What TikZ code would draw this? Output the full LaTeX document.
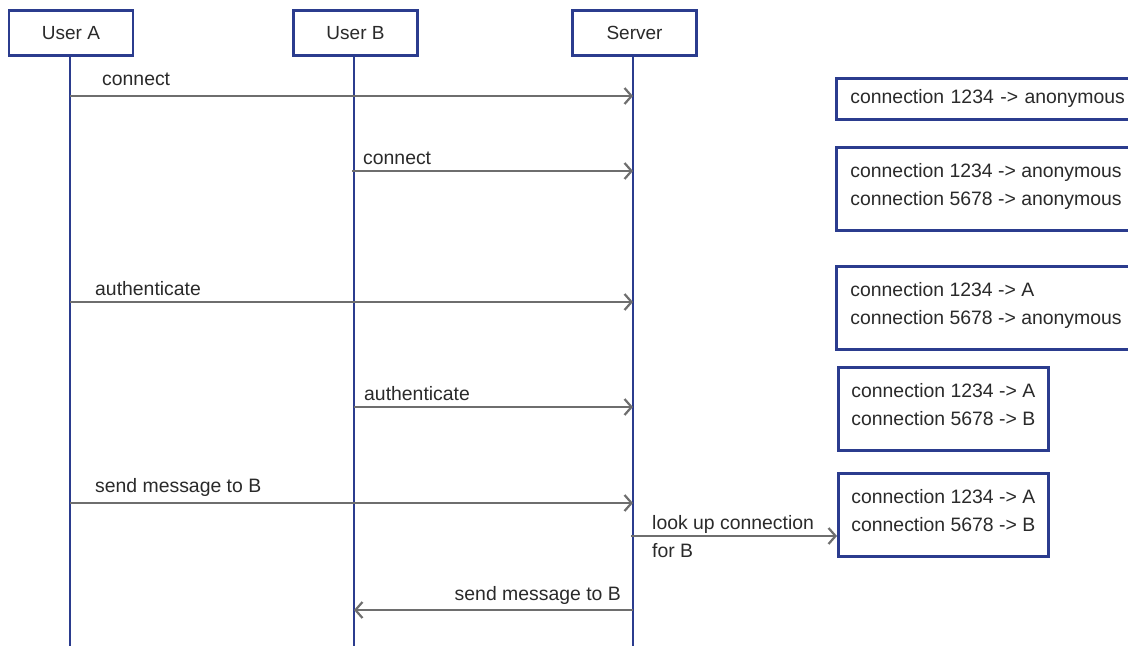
\documentclass[tikz,border=0pt]{standalone}
\usepackage{fontspec}
\setmainfont{Liberation Sans}
\usetikzlibrary{arrows.meta}
\definecolor{lineblue}{HTML}{2B3C8E}
\definecolor{msggray}{HTML}{6E6E6E}
\definecolor{txtgray}{HTML}{2A2A2A}
\newcommand{\statetext}[3]{\parbox[c][#1][t]{#2}{\vspace*{16.5pt}#3}}
\tikzset{
  actor/.style={draw=lineblue, line width=2.8pt, fill=white, minimum width=124pt, minimum height=45pt, inner sep=0pt, text=txtgray, font=\fontsize{19}{28}\selectfont},
  lifeline/.style={draw=lineblue, line width=2.6pt},
  msg/.style={draw=msggray, line width=2.3pt, -{Straight Barb[length=7pt,width=16pt,line width=2.2pt]}},
  msglabel/.style={text=txtgray, inner sep=0pt, font=\fontsize{19.4}{27}\selectfont},
  statebox/.style={draw=lineblue, line width=2.8pt, fill=white, anchor=north west, inner sep=0pt, text=txtgray, font=\fontsize{19.4}{28}\selectfont}
}
\begin{document}
\begin{tikzpicture}[x=1pt,y=-1pt]
\clip (0,0) rectangle (1128,646);
\fill[white] (0,0) rectangle (1128,646);
% lifeline ends
\coordinate (eA) at (70,646);
\coordinate (eB) at (354,646);
\coordinate (eS) at (633,646);
% actors
\node[actor] (hA) at (71,33) {User A};
\node[actor] (hB) at (355.5,33) {User B};
\node[actor] (hS) at (634.5,33) {Server};
\draw[lifeline] (70,56) -- (eA);
\draw[lifeline] (354,56) -- (eB);
\draw[lifeline] (633,56) -- (eS);
% message endpoints
\coordinate (a1) at (70,96);   \coordinate (s1) at (633,96);
\coordinate (b2) at (352,171); \coordinate (s2) at (633,171);
\coordinate (a3) at (70,302);  \coordinate (s3) at (633,302);
\coordinate (b4) at (354,407); \coordinate (s4) at (633,407);
\coordinate (a5) at (70,503);  \coordinate (s5) at (633,503);
\coordinate (s6) at (631,536);
\coordinate (s7) at (633,610); \coordinate (b7) at (354,610);
% state boxes
\node[statebox, minimum width=300pt, minimum height=41pt, text width=286pt, align=left] (st1) at (835,77) {\hspace*{7pt}connection 1234 -> anonymous};
\node[statebox] (st2) at (835,146) {\statetext{83pt}{300pt}{\hspace*{14pt}connection 1234 -> anonymous\\\hspace*{14pt}connection 5678 -> anonymous}};
\node[statebox] (st3) at (835,265) {\statetext{83pt}{300pt}{\hspace*{14pt}connection 1234 -> A\\\hspace*{14pt}connection 5678 -> anonymous}};
\node[statebox] (st4) at (837,366) {\statetext{83pt}{210pt}{\hspace*{13pt}connection 1234 -> A\\\hspace*{13pt}connection 5678 -> B}};
\node[statebox] (st5) at (837,472) {\statetext{83pt}{210pt}{\hspace*{13pt}connection 1234 -> A\\\hspace*{13pt}connection 5678 -> B}};
% messages
\draw[msg] (a1) -- (s1);
\node[msglabel, anchor=west] (l1) at (102,79) {connect};
\draw[msg] (b2) -- (s2);
\node[msglabel, anchor=west] (l2) at (363,158) {connect};
\draw[msg] (a3) -- (s3);
\node[msglabel, anchor=west] (l3) at (95,289) {authenticate};
\draw[msg] (b4) -- (s4);
\node[msglabel, anchor=west] (l4) at (364,394) {authenticate};
\draw[msg] (a5) -- (s5);
\node[msglabel, anchor=west] (l5) at (95,487) {send message to B};
\draw[msg] (s6) -- (st5.west |- s6);
\node[msglabel, anchor=west] (l6a) at (652,524) {look up connection};
\node[msglabel, anchor=west] (l6b) at (652,551) {for B};
\draw[msg] (s7) -- (b7);
\node[msglabel, anchor=east] (l7) at (621,595) {send message to B};
\end{tikzpicture}
\end{document}
